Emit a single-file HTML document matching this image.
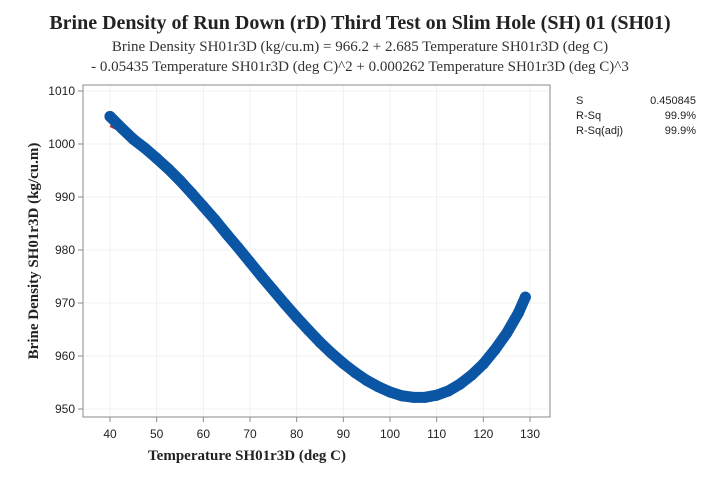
<!DOCTYPE html>
<html><head><meta charset="utf-8"><style>
body{margin:0;background:#fff;}
svg text{font-family:"Liberation Serif",serif;}
.sans{font-family:"Liberation Sans",sans-serif;}
</style></head><body>
<svg width="720" height="480" viewBox="0 0 720 480" xmlns="http://www.w3.org/2000/svg">
<rect x="0" y="0" width="720" height="480" fill="#fff"/>
<text x="360" y="29" text-anchor="middle" font-size="20" font-weight="bold" fill="#222">Brine Density of Run Down (rD) Third Test on Slim Hole (SH) 01 (SH01)</text>
<text x="360" y="51" text-anchor="middle" font-size="15" fill="#333">Brine Density SH01r3D (kg/cu.m) = 966.2 + 2.685 Temperature SH01r3D (deg C)</text>
<text x="360" y="71" text-anchor="middle" font-size="15" fill="#333">- 0.05435 Temperature SH01r3D (deg C)^2 + 0.000262 Temperature SH01r3D (deg C)^3</text>
<rect x="83" y="85" width="467" height="332" fill="#fff" stroke="#888" stroke-width="1"/>
<g id="grid"></g><g id="axes"></g><g id="series"></g>
<text x="247" y="460" text-anchor="middle" font-size="15" font-weight="bold" fill="#222">Temperature SH01r3D (deg C)</text>
<text transform="translate(38,251) rotate(-90)" text-anchor="middle" font-size="15" font-weight="bold" fill="#222">Brine Density SH01r3D (kg/cu.m)</text>
<g class="sans" font-size="11" fill="#222">
<text x="576" y="104" class="sans">S</text><text x="696" y="104" text-anchor="end" class="sans">0.450845</text>
<text x="576" y="119" class="sans">R-Sq</text><text x="696" y="119" text-anchor="end" class="sans">99.9%</text>
<text x="576" y="134" class="sans">R-Sq(adj)</text><text x="696" y="134" text-anchor="end" class="sans">99.9%</text>
</g>
</svg>
<script>
const xTicks=[40,50,60,70,80,90,100,110,120,130];
const yTicks=[950,960,970,980,990,1000,1010];
const temps=[40,42.5,45,47.5,50,52.5,55,57.5,60,62.5,65,67.5,70,72.5,75,77.5,80,82.5,85,87.5,90,92.5,95,97.5,100,102.5,105,107.5,110,112.5,115,117.5,120,122.5,125,127.5,129];
const density=[1005.2,1003.0,1000.9,999.2,997.3,995.3,993.1,990.7,988.2,985.7,983.0,980.4,977.7,975.0,972.4,969.8,967.3,964.9,962.6,960.5,958.6,956.9,955.4,954.2,953.2,952.5,952.2,952.2,952.6,953.4,954.7,956.4,958.5,961.2,964.3,968.1,971.1];
const fitCoef=[966.2,2.685,-0.05435,0.000262];
const NS="http://www.w3.org/2000/svg";
const X=v=>110+(v-40)*420/90;
const Y=v=>409-(v-950)*318/60;
function mk(tag,attrs,parent){const e=document.createElementNS(NS,tag);for(const k in attrs)e.setAttribute(k,attrs[k]);document.getElementById(parent).appendChild(e);return e;}
xTicks.forEach(t=>{
 const g=mk('line',{x1:X(t),x2:X(t),y1:86,y2:416,stroke:'#f0f0f0'},'grid');
 
 
 const tk=mk('line',{x1:X(t),x2:X(t),y1:417,y2:422,stroke:'#888'},'axes');
 
 
 const tx=mk('text',{x:X(t),y:438,'text-anchor':'middle','font-size':12,fill:'#222',class:'sans'},'axes');
 tx.textContent=t;
 
 
});
yTicks.forEach(t=>{
 const g=mk('line',{x1:84,x2:549,y1:Y(t),y2:Y(t),stroke:'#f0f0f0'},'grid');
 
 
 const tk=mk('line',{x1:78,x2:83,y1:Y(t),y2:Y(t),stroke:'#888'},'axes');
 
 
 const tx=mk('text',{x:75,y:Y(t)+4,'text-anchor':'end','font-size':12,fill:'#222',class:'sans'},'axes');
 tx.textContent=t;
 
 
});
let fp='';
for(let t=40;t<=129;t+=1){const v=fitCoef[0]+fitCoef[1]*t+fitCoef[2]*t*t+fitCoef[3]*t*t*t;fp+=(fp?'L':'M')+X(t)+','+Y(v);}
const fl=mk('path',{d:fp,fill:'none',stroke:'#c0282d','stroke-width':2},'series');


let dp='';
temps.forEach((t,i)=>{dp+=(i?'L':'M')+X(t)+','+Y(density[i]);});
const band=mk('path',{d:dp,fill:'none',stroke:'#0b55a5','stroke-width':11,'stroke-linejoin':'round','stroke-linecap':'round'},'series');


temps.forEach((t,i)=>{
 const c=mk('circle',{cx:X(t),cy:Y(density[i]),r:5.5,fill:'#0b55a5'},'series');
 
 
});
</script>
</body></html>
